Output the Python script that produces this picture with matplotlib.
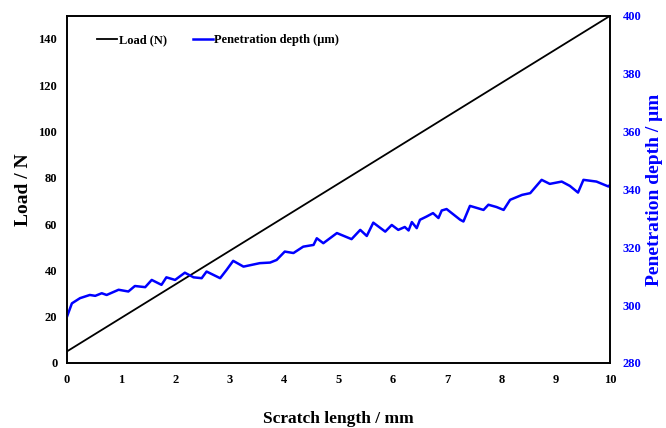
import matplotlib.pyplot as plt

plt.rcParams['font.family'] = ['Liberation Serif', 'DejaVu Serif']
plt.rcParams['font.weight'] = 'bold'

# load ramp (linear, start and end)
load_x = [0, 10]
load_n = [5, 150]

# penetration depth
depth_x = [0.0, 0.09, 0.24, 0.42, 0.52, 0.64, 0.73, 0.95, 1.13, 1.25, 1.44, 1.56,
           1.74, 1.83, 1.99, 2.17, 2.33, 2.48, 2.57, 2.82, 2.94, 3.06, 3.25, 3.55,
           3.74, 3.86, 4.01, 4.17, 4.35, 4.54, 4.60, 4.72, 4.97, 5.24, 5.40, 5.52,
           5.64, 5.86, 5.98, 6.10, 6.22, 6.29, 6.35, 6.44, 6.50, 6.62, 6.74, 6.84,
           6.90, 6.99, 7.24, 7.30, 7.42, 7.67, 7.76, 7.91, 8.04, 8.16, 8.38, 8.53,
           8.74, 8.89, 9.11, 9.26, 9.41, 9.51, 9.75, 9.97, 10.0]
depth_um = [296.0, 300.6, 302.4, 303.5, 303.2, 304.1, 303.5, 305.3, 304.7, 306.6,
            306.2, 308.7, 307.0, 309.6, 308.7, 311.2, 309.6, 309.3, 311.6, 309.3,
            312.2, 315.3, 313.3, 314.5, 314.7, 315.6, 318.5, 318.0, 320.2, 320.8,
            323.1, 321.4, 324.9, 322.8, 326.0, 323.9, 328.5, 325.4, 327.7, 326.0,
            327.0, 325.8, 328.7, 326.6, 329.5, 330.6, 331.8, 330.1, 332.7, 333.2,
            329.5, 328.9, 334.3, 332.9, 334.7, 333.9, 332.9, 336.4, 338.1, 338.7,
            343.3, 341.9, 342.7, 341.2, 338.9, 343.3, 342.7, 341.0, 341.6]

fig = plt.figure(figsize=(6.66, 4.28), dpi=100)
ax = fig.add_axes([0.1006, 0.152, 0.8154, 0.811])
ax2 = ax.twinx()

l1, = ax.plot(load_x, load_n, color='black', lw=1.3, label='Load (N)')
l2, = ax2.plot(depth_x, depth_um, color='#0000ff', lw=1.8, label='Penetration depth (\u03bcm)')

ax.set_xlim(0, 10)
ax.set_ylim(0, 150)
ax2.set_ylim(280, 400)
ax.set_xticks(range(0, 11))
ax.set_yticks(range(0, 141, 20))
ax2.set_yticks(range(280, 401, 20))

ax.tick_params(length=0, labelsize=9, pad=8)
ax.tick_params(axis='y', pad=7)
ax2.tick_params(length=0, labelsize=9, pad=9, labelcolor='#0000ff')
for a in (ax, ax2):
    for s in a.spines.values():
        s.set_linewidth(1.2)

ax.set_xlabel('Scratch length / mm', fontsize=12.5, fontweight='bold', labelpad=18)
ax.set_ylabel('Load / N', fontsize=14, fontweight='bold')
ax.yaxis.set_label_coords(-0.064, 0.5)
ax2.set_ylabel('Penetration depth / \u03bcm', fontsize=14, fontweight='bold',
               color='#0000ff')
ax2.yaxis.set_label_coords(1.067, 0.5)

ax.legend(handles=[l1, l2], loc='upper left', ncol=2, frameon=False,
          fontsize=9, handlelength=1.6, handletextpad=0.1, columnspacing=2.1,
          bbox_to_anchor=(0.035, 0.98))

fig.savefig('out.png', dpi=100)
